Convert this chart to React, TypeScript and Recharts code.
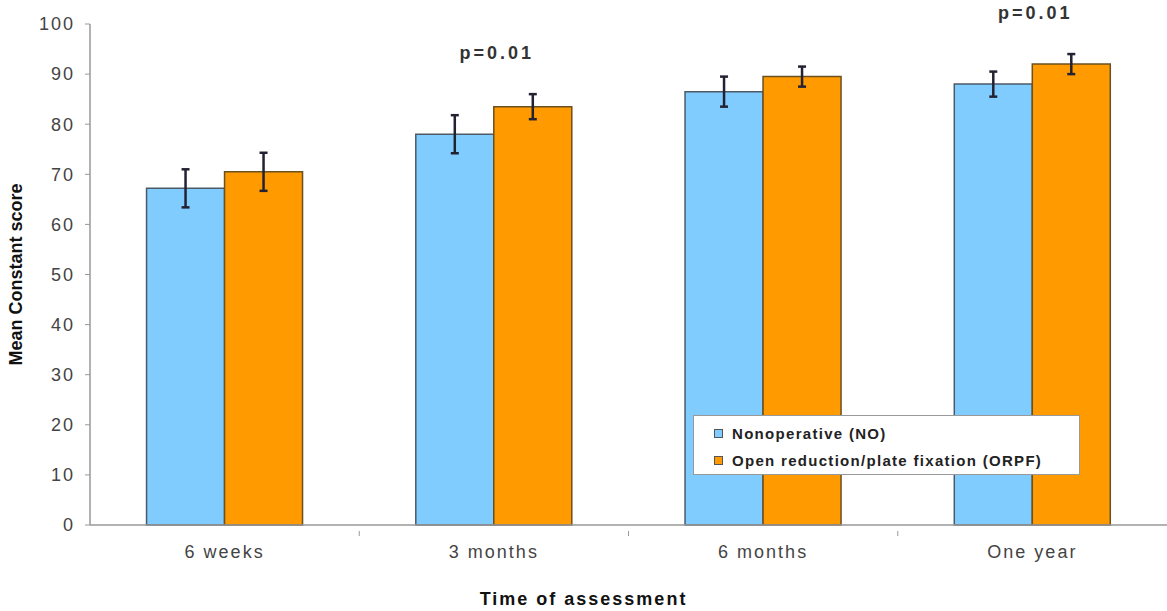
import {
  BarChart,
  Bar,
  XAxis,
  YAxis,
  ErrorBar,
  LabelList,
  Label,
} from "recharts";

const categories = ["6 weeks", "3 months", "6 months", "One year"];
const nonoperative = [67.2, 78, 86.5, 88];
const nonoperativeErr = [3.8, 3.8, 3, 2.5];
const orpf = [70.5, 83.5, 89.5, 92];
const orpfErr = [3.8, 2.5, 2, 2];
const pValues = ["", "p=0.01", "", "p=0.01"];
const yTicks = [0, 10, 20, 30, 40, 50, 60, 70, 80, 90, 100];
const legendItems = ["Nonoperative (NO)", "Open reduction/plate fixation (ORPF)"];

const data = categories.map((c, i) => ({
  name: c,
  NO: nonoperative[i],
  NOerr: nonoperativeErr[i],
  ORPF: orpf[i],
  ORPFerr: orpfErr[i],
  p: pValues[i],
}));

const BLUE = "#80ccff";
const ORANGE = "#ff9a00";
const FONT = "'Liberation Sans', Arial, sans-serif";

// eslint-disable-next-line @typescript-eslint/no-explicit-any
function CategoryTick(props: any) {
  const { x, y, payload, index } = props;
  const half = payload?.offset ?? 0;
  return (
    <g>
      {index > 0 && half > 0 && (
        <line x1={x - half} x2={x - half} y1={y - 8} y2={y - 3} stroke="#999" />
      )}
      <text
        x={x}
        y={y + 14}
        textAnchor="middle"
        dominantBaseline="middle"
        fontFamily={FONT}
        fontSize={18}
        letterSpacing={2}
        fill="#444"
      >
        {payload.value}
      </text>
    </g>
  );
}

// eslint-disable-next-line @typescript-eslint/no-explicit-any
function PLabel(props: any) {
  const { x, y, height, index } = props;
  const d = data[index];
  if (!d || !d.p) return null;
  const pxPerUnit = height / d.ORPF;
  const top = y - d.ORPFerr * pxPerUnit;
  return (
    <text
      x={x + 3}
      y={top - 40}
      textAnchor="middle"
      dominantBaseline="middle"
      fontFamily={FONT}
      fontWeight="bold"
      fontSize={18}
      letterSpacing={3}
      fill="#333"
    >
      {d.p}
    </text>
  );
}

function LegendBox() {
  const colors = [BLUE, ORANGE];
  return (
    <div
      style={{
        position: "absolute",
        left: 693,
        top: 415,
        width: 387,
        height: 60,
        boxSizing: "border-box",
        border: "1px solid #999",
        background: "#fff",
        padding: "4px 0 0 20px",
        fontFamily: FONT,
        fontSize: 15,
        letterSpacing: 1.3,
        color: "#222",
        fontWeight: "bold",
      }}
    >
      {legendItems.map((label, i) => (
        <div
          key={label}
          style={{ display: "flex", alignItems: "center", height: 27 }}
        >
          <span
            style={{
              display: "inline-block",
              width: 7,
              height: 7,
              background: colors[i],
              border: "1px solid #555",
              marginRight: 9,
            }}
          />
          {label}
        </div>
      ))}
    </div>
  );
}

export default function App() {
  return (
    <div
      style={{
        position: "absolute",
        left: 0,
        top: 0,
        width: 1167,
        height: 611,
        background: "#fff",
      }}
    >
      <BarChart
        width={1167}
        height={611}
        data={data}
        margin={{ top: 24, right: 0, bottom: 0, left: 0 }}
        barCategoryGap="21%"
        barGap={0}
      >
        <XAxis
          dataKey="name"
          height={86}
          tick={<CategoryTick />}
          tickLine={false}
          tickMargin={8}
          axisLine={{ stroke: "#999", strokeWidth: 1.5 }}
        >
          <Label
            value="Time of assessment"
            position="insideBottom"
            offset={6}
            dx={-45}
            style={{
              fontFamily: FONT,
              fontWeight: "bold",
              fontSize: 18,
              letterSpacing: 2,
              fill: "#111",
            }}
          />
        </XAxis>
        <YAxis
          width={90}
          domain={[0, 100]}
          ticks={yTicks}
          interval={0}
          tick={{ fill: "#444", fontSize: 18, fontFamily: FONT, letterSpacing: 2 }}
          tickLine={{ stroke: "#999" }}
          tickSize={5}
          tickMargin={10}
          axisLine={{ stroke: "#999", strokeWidth: 1.5 }}
        >
          <Label
            value="Mean Constant score"
            angle={-90}
            position="insideLeft"
            offset={16}
            style={{
              textAnchor: "middle",
              fontFamily: FONT,
              fontWeight: "bold",
              fontSize: 18,
              fill: "#111",
            }}
          />
        </YAxis>
        <Bar
          dataKey="NO"
          name="Nonoperative (NO)"
          fill={BLUE}
          stroke="#4d5a66"
          strokeWidth={1.5}
          isAnimationActive={false}
        >
          <ErrorBar
            dataKey="NOerr"
            width={4}
            stroke="#223"
            strokeWidth={2.5}
            isAnimationActive={false}
          />
        </Bar>
        <Bar
          dataKey="ORPF"
          name="Open reduction/plate fixation (ORPF)"
          fill={ORANGE}
          stroke="#6b5020"
          strokeWidth={1.5}
          isAnimationActive={false}
        >
          <ErrorBar
            dataKey="ORPFerr"
            width={4}
            stroke="#223"
            strokeWidth={2.5}
            isAnimationActive={false}
          />
          <LabelList content={<PLabel />} />
        </Bar>
      </BarChart>
      <LegendBox />
    </div>
  );
}
